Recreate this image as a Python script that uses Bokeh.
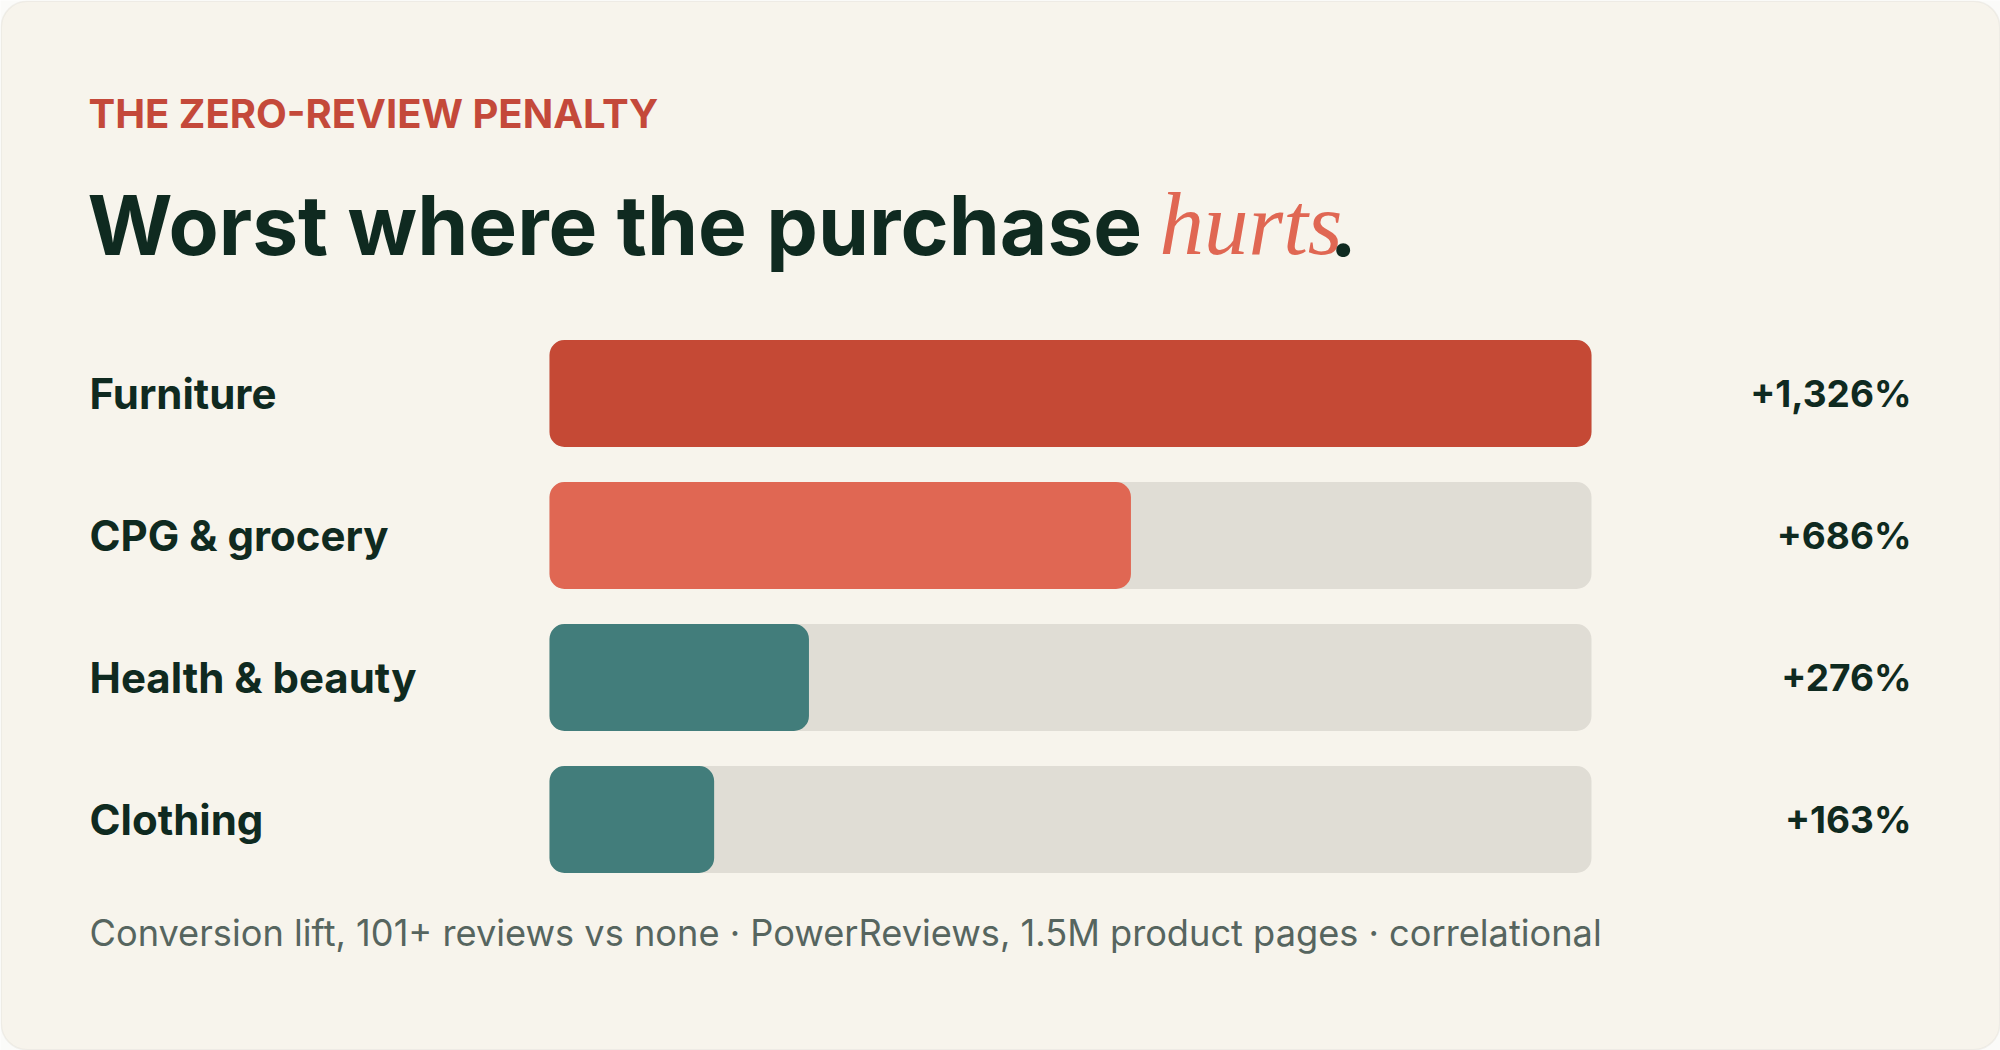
from bokeh.plotting import figure
from bokeh.models import ColumnDataSource, Range1d, Label, BoxAnnotation
from bokeh.core.properties import value
from bokeh.embed import file_html
from bokeh.resources import INLINE

# ---- data ----
categories = ["Furniture", "CPG & grocery", "Health & beauty", "Clothing"]
lift_pct = [1326, 686, 276, 163]
value_labels = ["+1,326%", "+686%", "+276%", "+163%"]
bar_share = [100, 55.8, 24.9, 15.8]   # drawn bar length as % of track
bar_colors = ["#c54935", "#e06753", "#427d7b", "#427d7b"]

eyebrow = "THE ZERO-REVIEW PENALTY"
title_main = "Worst where the purchase"
title_accent = "hurts"
footer = "Conversion lift, 101+ reviews vs none \u00b7 PowerReviews, 1.5M product pages \u00b7 correlational"

# ---- layout constants (pixels) ----
W, H = 2000, 1050
TRACK_LEFT, TRACK_W = 549, 1042
ROW0, PITCH = 393, 142
BAR_H = 107

INK = "#0f2a20"
BG = "#f7f4ec"
TRACK = "#e0ddd5"

x0 = -TRACK_LEFT / (TRACK_W / 100)
x1 = (W - TRACK_LEFT) / (TRACK_W / 100)
y_bottom = (H - ROW0) / PITCH
y_top = -ROW0 / PITCH

p = figure(width=W, height=H, output_backend="svg", toolbar_location=None,
           x_range=Range1d(x0, x1), y_range=Range1d(y_bottom, y_top),
           x_axis_location=None, y_axis_location=None,
           min_border=0, min_border_left=0, min_border_right=0,
           min_border_top=0, min_border_bottom=0)
p.extra_x_ranges = {"px": Range1d(0, W)}
p.extra_y_ranges = {"px": Range1d(H, 0)}
p.grid.visible = False
p.outline_line_color = None
p.background_fill_color = "#fbfbf9"
p.border_fill_color = "#fbfbf9"

card = BoxAnnotation(left=0.75, right=W - 0.75, top=0.75, bottom=H - 0.75,
                     x_range_name="px", y_range_name="px",
                     fill_color=BG, fill_alpha=1, line_color="#d6d4cc", line_width=1.5,
                     border_radius=26, level="underlay")
p.add_layout(card)

rows = list(range(len(categories)))
src = ColumnDataSource(dict(row=rows, cat=categories, share=bar_share,
                            track=[100] * len(rows), color=bar_colors,
                            lab=value_labels, lift=lift_pct))

bh = BAR_H / PITCH
p.hbar(y="row", left=0, right="track", height=bh, source=src,
       fill_color=TRACK, line_color=None, border_radius=15)
p.hbar(y="row", left=0, right="share", height=bh, source=src,
       fill_color="color", line_color=None, border_radius=15)

p.text(x=89, y="row", text="cat", source=src, x_range_name="px",
       text_font=value("Inter"), text_font_style="bold", text_font_size="42px",
       text_color=INK, text_baseline="middle", text_align="left")
p.text(x=1911, y="row", text="lab", source=src, x_range_name="px",
       text_font=value("Inter"), text_font_style="bold", text_font_size="37px",
       text_color=INK, text_baseline="middle", text_align="right")

def lab(x, y, t, font, size, color, style="normal", align="left"):
    p.add_layout(Label(x=x, y=y, text=t, x_range_name="px", y_range_name="px",
                       text_font=font, text_font_size=size, text_font_style=style,
                       text_color=color, text_align=align, text_baseline="alphabetic"))

lab(88, 113, eyebrow, "Inter", "40px", "#c4493a", "bold")
lab(87, 225, title_main, "Inter", "82px", INK, "bold")
lab(1159, 223, title_accent, "Liberation Serif", "89px", "#e06753", "italic")
lab(1329, 225, ".", "Inter", "82px", INK, "bold")
lab(89, 932, footer, "Inter", "36.2px", "#56655f")

open("out.html", "w").write(file_html(p, INLINE))
